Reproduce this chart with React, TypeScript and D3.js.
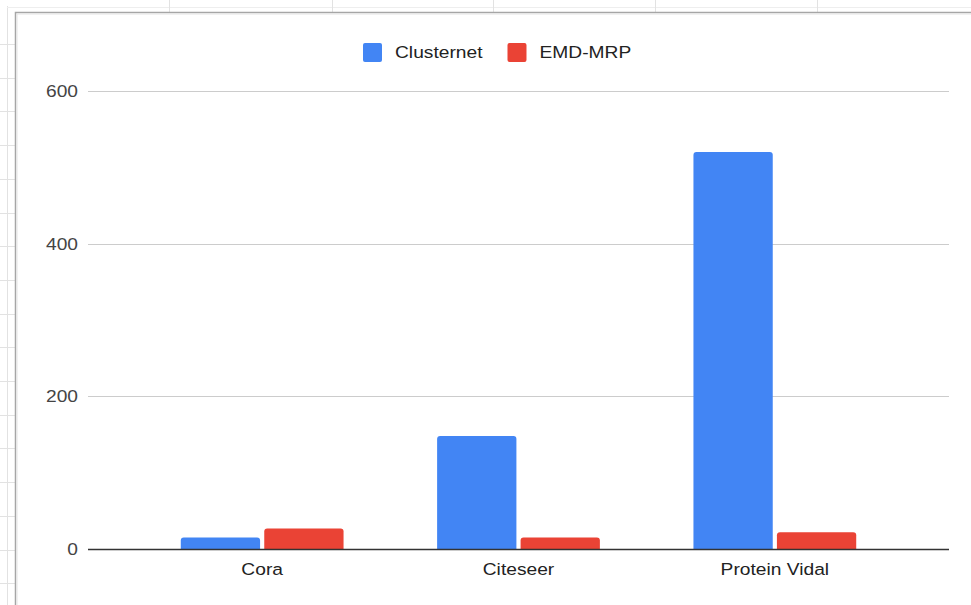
import React, { useEffect, useRef } from "react";
import * as d3 from "d3";

// Dataset categories and per-method values
const categories = ["Cora", "Citeseer", "Protein Vidal"];
const seriesNames = ["Clusternet", "EMD-MRP"];
const clusternetValues = [15, 148, 520];
const emdMrpValues = [27, 15, 22];
const yTicks = [0, 200, 400, 600];
const seriesColors = ["#4285F4", "#EA4335"];

const W = 971;
const H = 605;
const FONT = "'Liberation Sans', Arial, sans-serif";
const STRETCH = 1.13;

// path for a bar with rounded top corners only
function barPath(x: number, y: number, w: number, h: number, r: number) {
  const rr = Math.min(r, h, w / 2);
  return `M${x},${y + h}V${y + rr}Q${x},${y} ${x + rr},${y}H${x + w - rr}Q${x + w},${y} ${x + w},${y + rr}V${y + h}Z`;
}

export default function App() {
  const ref = useRef<SVGSVGElement | null>(null);

  useEffect(() => {
    const svg = d3.select(ref.current);
    svg.selectAll("*").remove();

    // spreadsheet backdrop lines
    const bg = svg.append("g");
    bg.append("line").attr("x1", 7.5).attr("x2", 7.5).attr("y1", 6).attr("y2", H)
      .attr("stroke", "#e2e2e2");
    bg.append("line").attr("x1", 7).attr("x2", W).attr("y1", 7.5).attr("y2", 7.5)
      .attr("stroke", "#eeeeee");
    [169, 332, 493, 655, 817].forEach((x) =>
      bg.append("line").attr("x1", x + 0.5).attr("x2", x + 0.5).attr("y1", 0).attr("y2", 12)
        .attr("stroke", "#e2e2e2"));
    for (let y = 44; y < H; y += 33.7) {
      bg.append("line").attr("x1", 0).attr("x2", 15).attr("y1", Math.round(y) + 0.5)
        .attr("y2", Math.round(y) + 0.5).attr("stroke", "#e2e2e2");
    }

    // chart frame
    svg.append("rect").attr("x", 16).attr("y", 13).attr("width", W).attr("height", H)
      .attr("fill", "#ffffff");
    svg.append("path").attr("d", `M15.5,${H}V12.5H${W}`).attr("fill", "none")
      .attr("stroke", "#a6a6a6").attr("stroke-width", 1.5);
    svg.append("path").attr("d", `M17,${H}V14H${W}`).attr("fill", "none")
      .attr("stroke", "#e4e4e4").attr("stroke-width", 1);

    const y = d3.scaleLinear().domain([0, 600]).range([549, 91]);
    const x0 = d3.scaleBand<string>().domain(categories).range([134, 903])
      .paddingInner(0.365).paddingOuter(0.1825);
    const x1 = d3.scaleBand<string>().domain(seriesNames).range([0, x0.bandwidth()])
      .paddingInner(0.05);

    const gridLeft = 88;
    const gridRight = 949;

    // gridlines
    svg.append("g").selectAll("line").data(yTicks.filter((t) => t !== 0)).join("line")
      .attr("x1", gridLeft).attr("x2", gridRight)
      .attr("y1", (d) => Math.round(y(d)) + 0.5).attr("y2", (d) => Math.round(y(d)) + 0.5)
      .attr("stroke", "#cccccc");

    // y tick labels
    svg.append("g").selectAll("text").data(yTicks).join("text")
      .attr("transform", (d) => `translate(78,${y(d) + 6}) scale(${STRETCH},1)`)
      .attr("text-anchor", "end")
      .attr("font-family", FONT).attr("font-size", 17).attr("fill", "#444444")
      .text((d) => String(d));

    // bars
    const values = [clusternetValues, emdMrpValues];
    const rows = categories.flatMap((c, i) =>
      seriesNames.map((s, j) => ({ c, s, v: values[j][i], color: seriesColors[j] })));
    svg.append("g").selectAll("path").data(rows).join("path")
      .attr("d", (d) => {
        const bx = (x0(d.c) as number) + (x1(d.s) as number);
        const top = y(d.v);
        return barPath(bx, top, x1.bandwidth(), y(0) - top, 3);
      })
      .attr("fill", (d) => d.color);

    // baseline
    svg.append("line").attr("x1", gridLeft).attr("x2", gridRight)
      .attr("y1", y(0) + 0.5).attr("y2", y(0) + 0.5)
      .attr("stroke", "#333333").attr("stroke-width", 1.5);

    // category labels
    svg.append("g").selectAll("text").data(categories).join("text")
      .attr("transform", (d) => `translate(${(x0(d) as number) + x0.bandwidth() / 2},575) scale(${STRETCH},1)`)
      .attr("text-anchor", "middle")
      .attr("font-family", FONT).attr("font-size", 17).attr("fill", "#222222")
      .text((d) => d);

    // legend
    const legend = svg.append("g");
    let lx = 363;
    seriesNames.forEach((name, i) => {
      legend.append("rect").attr("x", lx).attr("y", 43).attr("width", 19).attr("height", 19)
        .attr("rx", 2).attr("fill", seriesColors[i]);
      const t = legend.append("text")
        .attr("transform", `translate(${lx + 32},57.5) scale(${STRETCH},1)`)
        .attr("font-family", FONT).attr("font-size", 17).attr("fill", "#222222")
        .text(name);
      const tw = (t.node() as SVGTextElement).getComputedTextLength() * STRETCH;
      lx += 32 + tw + 25;
    });
  }, []);

  return (
    <svg
      ref={ref}
      width={W}
      height={H}
      style={{ position: "fixed", left: 0, top: 0, background: "#ffffff" }}
    />
  );
}
